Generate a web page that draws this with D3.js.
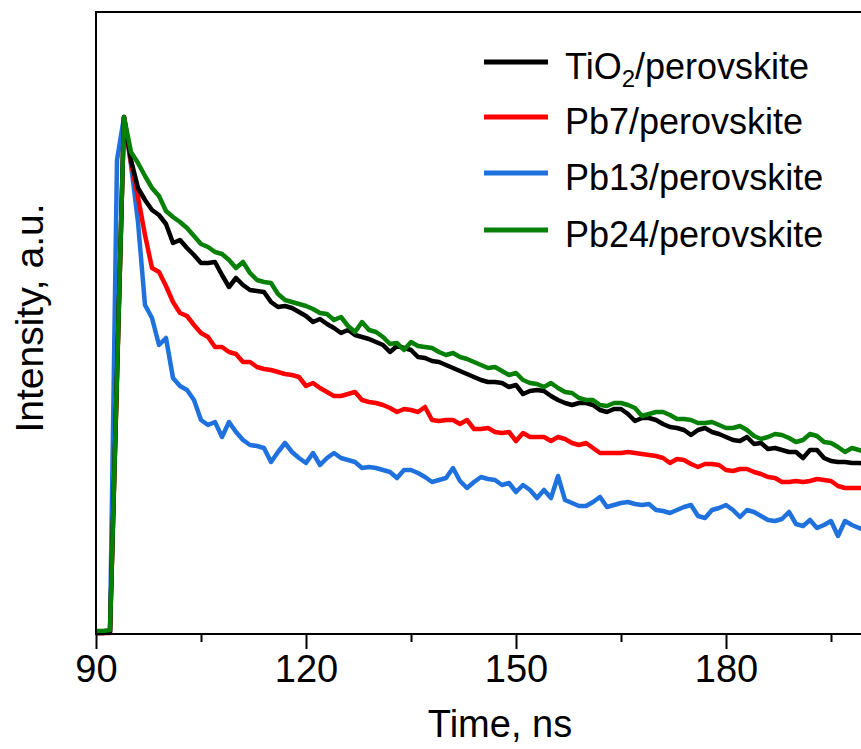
<!DOCTYPE html>
<html lang="en">
<head>
<meta charset="utf-8">
<title>PL decay</title>
<script src="https://cdn.jsdelivr.net/npm/d3@7/dist/d3.min.js"></script>
<style>
  body { margin: 0; background: #fff; }
  svg { display: block; }
  text { font-family: Arial, "Liberation Sans", sans-serif; fill: #000; }
</style>
</head>
<body>
<script>

// time, ns
var times = [90,91,92,93,94,95,96,97,98,99,100,101,102,103,104,105,106,107,108,109,
  110,111,112,113,114,115,116,117,118,119,120,121,122,123,124,125,126,127,128,129,
  130,131,132,133,134,135,136,137,138,139,140,141,142,143,144,145,146,147,148,149,
  150,151,152,153,154,155,156,157,158,159,160,161,162,163,164,165,166,167,168,169,
  170,171,172,173,174,175,176,177,178,179,180,181,182,183,184,185,186,187,188,189,
  190,191,192,193,194,195,196,197,198,199,200];

// intensity, a.u.
var tio2 = [1,1,2,260,517,
  474,446,434,424,419,410,391,394,386,379,
  371,371,372,359,347,356,349,344,343,342,
  332,327,328,326,322,318,312,315,310,306,
  301,304,299,297,295,292,289,282,288,286,
  284,277,276,273,272,269,266,263,260,257,
  254,252,252,251,247,249,240,243,244,243,
  238,234,231,229,231,231,229,224,222,225,
  225,220,213,216,216,214,210,207,206,204,
  199,204,206,202,200,197,194,193,197,190,
  191,185,186,184,182,182,176,184,184,176,
  173,172,172,171,171,170];

var pb7 = [1,1,1,254,517,
  471,437,399,366,362,348,332,321,318,309,
  301,297,287,287,282,280,272,272,267,265,
  264,262,260,259,257,248,251,246,242,238,
  238,240,242,234,232,231,229,226,222,225,
  224,222,227,214,213,214,214,210,214,205,
  205,206,202,201,202,193,201,197,197,197,
  193,197,195,191,189,191,186,181,181,181,
  181,182,181,180,179,178,176,171,175,174,
  170,167,170,170,169,164,163,165,165,162,
  160,157,156,152,152,153,152,153,155,154,
  153,148,146,146,146,146];

var pb13 = [1,1,2,474,517,
  469,412,329,316,289,296,256,248,244,234,
  214,209,212,197,212,202,194,189,188,186,
  172,182,191,182,176,171,181,169,176,181,
  176,174,172,166,167,166,164,162,156,164,
  164,161,157,152,154,156,166,153,146,152,
  157,155,154,149,151,142,149,144,136,144,
  136,158,134,131,128,128,132,137,127,129,
  131,132,130,129,130,124,123,121,124,127,
  129,118,116,124,126,129,124,117,124,122,
  118,114,113,115,122,110,108,114,106,109,
  113,98,113,109,106,104];

var pb24 = [3,3,4,259,517,
  482,471,458,446,438,423,417,412,406,398,
  390,387,382,380,374,366,372,361,354,352,
  351,340,334,332,330,328,325,321,320,314,
  317,308,302,312,304,302,297,290,291,284,
  292,288,287,286,282,279,281,277,275,272,
  269,266,267,263,259,261,254,251,250,247,
  251,246,242,241,236,234,234,229,228,231,
  231,229,226,218,220,222,222,219,215,215,
  214,211,211,212,209,206,206,208,204,198,
  195,197,200,199,196,192,194,200,198,192,
  191,187,182,186,184,182];

var seriesNames = ["TiO2/perovskite", "Pb7/perovskite", "Pb13/perovskite", "Pb24/perovskite"];
var seriesColors = ["#000000", "#ff0000", "#1f72de", "#078007"];
var seriesValues = [tio2, pb7, pb13, pb24];

var majorTicks = [90, 120, 150, 180];
var minorTicks = [105, 135, 165, 195];

var width = 861, height = 749;
var plotLeft = 96, plotTop = 12, plotBottom = 634, plotRight = 866;

var svg = d3.select("body").append("svg")
  .attr("width", width)
  .attr("height", height);

var x = d3.scaleLinear().domain([90, 200]).range([plotLeft, plotRight]);
var y = d3.scaleLinear().domain([0, 622]).range([plotBottom, plotTop]);

// curves: blue, red, black, green on top
var order = [2, 1, 0, 3];
var line = d3.line()
  .x(function (d, i) { return x(times[i]); })
  .y(function (d) { return y(d); });

order.forEach(function (k) {
  svg.append("path")
    .attr("d", line(seriesValues[k]))
    .attr("fill", "none")
    .attr("stroke", seriesColors[k])
    .attr("stroke-width", 4.5)
    .attr("stroke-linejoin", "round");
});

// frame
svg.append("path")
  .attr("d", "M" + plotRight + "," + plotTop + "H" + plotLeft + "V" + plotBottom + "H" + plotRight)
  .attr("fill", "none")
  .attr("stroke", "#000")
  .attr("stroke-width", 2);

// x axis
var xAxis = svg.append("g")
  .attr("transform", "translate(0," + plotBottom + ")")
  .call(d3.axisBottom(x).tickValues(majorTicks).tickSize(15).tickPadding(6).tickFormat(d3.format("d")));
xAxis.select(".domain").remove();
xAxis.selectAll(".tick line").attr("stroke-width", 2);
xAxis.selectAll(".tick text")
  .attr("font-size", 38)
  .attr("font-family", "Arial, 'Liberation Sans', sans-serif");

var xMinor = svg.append("g")
  .attr("transform", "translate(0," + plotBottom + ")")
  .call(d3.axisBottom(x).tickValues(minorTicks).tickSize(8).tickFormat(""));
xMinor.select(".domain").remove();
xMinor.selectAll(".tick line").attr("stroke-width", 2);

svg.append("text")
  .attr("x", 500)
  .attr("y", 737)
  .attr("text-anchor", "middle")
  .attr("font-size", 38)
  .text("Time, ns");

svg.append("text")
  .attr("transform", "translate(43,318) rotate(-90)")
  .attr("text-anchor", "middle")
  .attr("font-size", 39)
  .text("Intensity, a.u.");

// legend
var legendY = [62, 117, 173, 230];
seriesNames.forEach(function (name, i) {
  var g = svg.append("g").attr("transform", "translate(0," + legendY[i] + ")");
  g.append("line")
    .attr("x1", 484).attr("x2", 548)
    .attr("y1", 0).attr("y2", 0)
    .attr("stroke", seriesColors[i])
    .attr("stroke-width", 5);
  var t = g.append("text")
    .attr("x", 565)
    .attr("y", 17)
    .attr("font-size", 36);
  if (i === 0) {
    t.append("tspan").text("TiO");
    t.append("tspan").attr("font-size", 24).attr("dy", 8).text("2");
    t.append("tspan").attr("dy", -8).text("/perovskite");
  } else {
    t.text(name);
  }
});

</script>
</body>
</html>
